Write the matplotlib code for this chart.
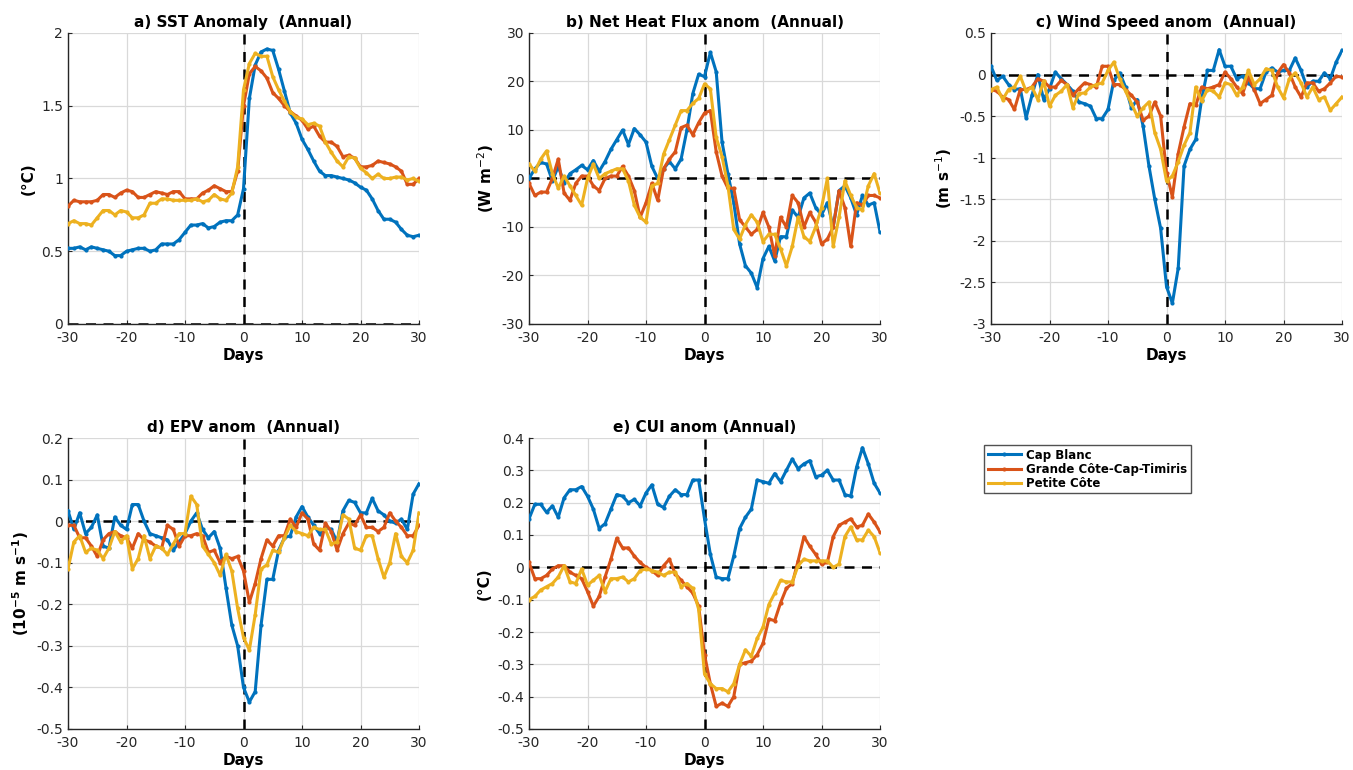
import matplotlib
matplotlib.use("Agg")
import matplotlib.pyplot as plt
import numpy as np
from matplotlib.ticker import FuncFormatter

plt.rcParams.update({
    "font.family": "DejaVu Sans",
    "axes.unicode_minus": False,
    "font.size": 10,
})

days = np.arange(-30, 31)

# a) SST anomaly (degC)
sst_cb = [0.52, 0.52, 0.53, 0.51, 0.53, 0.52, 0.51, 0.50, 0.47, 0.47, 0.50, 0.51, 0.52, 0.52, 0.50, 0.51,
          0.55, 0.55, 0.55, 0.58, 0.63, 0.68, 0.68, 0.69, 0.66, 0.67, 0.70, 0.71, 0.71, 0.75, 0.93,
          1.55, 1.78, 1.87, 1.89, 1.88, 1.75, 1.60, 1.45, 1.38, 1.27, 1.20, 1.12, 1.05, 1.02, 1.02, 1.01,
          1.00, 0.99, 0.97, 0.94, 0.92, 0.86, 0.78, 0.72, 0.72, 0.70, 0.65, 0.61, 0.60, 0.61, 0.59][:61]
sst_gc = [0.81, 0.85, 0.84, 0.84, 0.84, 0.85, 0.89, 0.89, 0.87, 0.90, 0.92, 0.91, 0.87, 0.87, 0.89, 0.91,
          0.90, 0.89, 0.91, 0.91, 0.86, 0.86, 0.86, 0.90, 0.92, 0.95, 0.93, 0.91, 0.91, 1.05,
          1.50, 1.72, 1.77, 1.74, 1.69, 1.59, 1.55, 1.50, 1.46, 1.43, 1.40, 1.34, 1.36, 1.29, 1.25, 1.25,
          1.22, 1.15, 1.16, 1.14, 1.08, 1.08, 1.09, 1.12, 1.11, 1.10, 1.08, 1.05, 0.96, 0.96, 1.00]
sst_pc = [0.69, 0.71, 0.69, 0.69, 0.68, 0.73, 0.78, 0.78, 0.75, 0.78, 0.77, 0.73, 0.73, 0.75, 0.83, 0.83,
          0.86, 0.86, 0.85, 0.85, 0.85, 0.85, 0.86, 0.84, 0.85, 0.89, 0.86, 0.85, 0.90, 1.08,
          1.61, 1.79, 1.86, 1.84, 1.84, 1.70, 1.61, 1.53, 1.46, 1.42, 1.41, 1.37, 1.38, 1.36, 1.25, 1.18,
          1.12, 1.08, 1.15, 1.14, 1.07, 1.04, 1.00, 1.03, 1.00, 1.00, 1.01, 1.01, 0.99, 1.00, 0.98]

# b) Net heat flux anomaly (W m-2)
nhf_cb = [0, 2, 3.3, 3, -0.5, 2.5, -1, 1, 1.8, 2.7, 1.8, 3.7, 1.5, 3.5, 6, 8, 10, 7, 10.3, 9, 7.5,
          2.5, 0, 2, 3.5, 2, 4, 10, 17.5, 21.5, 21, 26, 22, 7.5, 1, -5, -13.5, -18, -19.5, -22.5,
          -16.5, -14, -17, -12, -12, -6.5, -8, -4, -3, -6, -7.5, -5, -10, -2.5, -1.5, -4, -7.5,
          -3.5, -5.5, -5, -11]
nhf_gc = [-1, -3.5, -2.8, -2.8, 0, 4, -3, -4.5, -1, 0.5, 0.5, -1.5, -2.5, 0, 0.5, 0.5, 2.5, 0.5,
          -2.5, -8, -5, -1, -4.5, 2, 4, 5.5, 10.5, 11, 9, 11.5, 13.5, 14, 5.5, 0.5, -2, -2, -8.5,
          -10, -11.5, -10.5, -7, -10, -16, -8, -10, -3.5, -5, -10, -7, -9, -13.5, -12.5, -10,
          -2.5, -6, -14, -5, -5.5, -3.5, -3.5, -4]
nhf_pc = [3, 1.5, 4, 5.7, 1, -2, 0.5, -1.5, -3.5, -5.5, 0, 3, 0, 1, 1.5, 2, 2, -0.5, -5.5, -8, -9,
          -1.5, -1, 5, 8, 11, 14, 14, 15.5, 16.5, 19.5, 18.5, 8.5, 4.5, -1.5, -10.5, -12.5, -9.5,
          -7.5, -9, -13, -11.5, -11.5, -14.5, -18, -14, -8, -12, -13, -10, -6, 0, -14, -8, -0.5,
          -3.5, -6, -6.5, -1.5, 1, -3]

# c) Wind speed anomaly (m s-1)
ws_cb = [0.10, -0.07, -0.02, -0.12, -0.18, -0.17, -0.52, -0.25, 0.0, -0.30, -0.17, 0.03, -0.05,
         -0.12, -0.20, -0.33, -0.35, -0.38, -0.53, -0.53, -0.42, -0.07, 0.02, -0.15, -0.40, -0.30,
         -0.62, -1.10, -1.50, -1.85, -2.55, -2.75, -2.33, -1.10, -0.90, -0.78, -0.30, 0.05, 0.05,
         0.30, 0.10, 0.10, -0.05, -0.02, -0.10, -0.17, -0.17, 0.03, 0.08, 0.03, 0.05, 0.05, 0.20,
         0.05, -0.15, -0.08, -0.08, 0.02, -0.05, 0.15, 0.29]
ws_gc = [-0.18, -0.20, -0.27, -0.30, -0.42, -0.18, -0.18, -0.15, -0.05, -0.08, -0.15, -0.15, -0.07,
         -0.12, -0.25, -0.17, -0.10, -0.12, -0.15, 0.10, 0.10, -0.12, -0.12, -0.18, -0.25, -0.33,
         -0.55, -0.50, -0.33, -0.50, -1.18, -1.47, -0.95, -0.63, -0.35, -0.37, -0.15, -0.17, -0.15,
         -0.12, 0.03, -0.05, -0.15, -0.23, -0.03, -0.18, -0.35, -0.30, -0.25, 0.02, 0.12, 0.02,
         -0.15, -0.27, -0.10, -0.10, -0.20, -0.17, -0.10, -0.02, -0.03]
ws_pc = [-0.18, -0.15, -0.30, -0.18, -0.15, -0.02, -0.20, -0.15, -0.30, -0.08, -0.38, -0.25, -0.20,
         -0.12, -0.40, -0.23, -0.22, -0.15, -0.12, -0.10, 0.05, 0.15, -0.05, -0.20, -0.35, -0.50,
         -0.40, -0.33, -0.70, -0.90, -1.28, -1.22, -1.05, -0.85, -0.70, -0.15, -0.32, -0.18, -0.20,
         -0.27, -0.10, -0.12, -0.25, -0.15, 0.05, -0.12, -0.05, 0.07, 0.05, -0.15, -0.28, -0.05,
         0.02, -0.10, -0.27, -0.15, -0.30, -0.27, -0.43, -0.35, -0.27]

# d) EPV anomaly (1e-5 m s-1)
epv_cb = [0.025, -0.02, 0.02, -0.03, -0.015, 0.015, -0.06, -0.065, 0.01, -0.01, -0.02, 0.04, 0.04,
          0.0, -0.03, -0.035, -0.04, -0.045, -0.07, -0.05, -0.03, 0.0, 0.02, -0.02, -0.04, -0.025,
          -0.065, -0.16, -0.25, -0.30, -0.40, -0.435, -0.41, -0.25, -0.14, -0.14, -0.07, -0.04,
          -0.035, 0.01, 0.035, 0.01, -0.01, -0.03, -0.015, -0.02, -0.05, 0.025, 0.05, 0.045, 0.02,
          0.02, 0.055, 0.025, 0.015, 0.0, -0.005, 0.005, -0.02, 0.065, 0.09]
epv_gc = [-0.01, -0.01, -0.04, -0.04, -0.06, -0.085, -0.045, -0.03, -0.025, -0.035, -0.04, -0.065,
          -0.03, -0.045, -0.05, -0.06, -0.065, -0.01, -0.02, -0.06, -0.035, -0.035, -0.03, -0.035,
          -0.075, -0.07, -0.10, -0.085, -0.09, -0.085, -0.12, -0.195, -0.15, -0.09, -0.045, -0.06,
          -0.035, -0.035, 0.005, -0.015, 0.02, 0.005, -0.055, -0.07, -0.005, -0.025, -0.07, -0.03,
          -0.005, -0.01, 0.015, -0.015, -0.015, -0.025, -0.015, 0.02, 0.0, -0.015, -0.035, -0.035,
          -0.01]
epv_pc = [-0.115, -0.05, -0.035, -0.075, -0.065, -0.07, -0.09, -0.065, -0.025, -0.05, -0.035, -0.115,
          -0.09, -0.035, -0.09, -0.06, -0.065, -0.08, -0.055, -0.03, -0.03, 0.06, 0.04, -0.06, -0.08,
          -0.10, -0.13, -0.08, -0.12, -0.21, -0.28, -0.31, -0.225, -0.115, -0.105, -0.07, -0.075,
          -0.04, -0.01, -0.025, -0.03, -0.035, -0.015, -0.02, -0.02, -0.055, -0.05, 0.015, 0.005,
          -0.065, -0.07, -0.035, -0.035, -0.09, -0.135, -0.10, -0.03, -0.085, -0.10, -0.07, 0.02]

# e) CUI anomaly (degC)
cui_cb = [0.15, 0.195, 0.195, 0.17, 0.19, 0.155, 0.215, 0.24, 0.24, 0.25, 0.22, 0.18, 0.12, 0.135,
          0.18, 0.225, 0.22, 0.20, 0.21, 0.19, 0.23, 0.255, 0.195, 0.185, 0.22, 0.24, 0.225, 0.225,
          0.27, 0.27, 0.15, 0.04, -0.03, -0.035, -0.035, 0.035, 0.12, 0.155, 0.18, 0.27, 0.265,
          0.26, 0.29, 0.265, 0.30, 0.335, 0.305, 0.32, 0.33, 0.28, 0.285, 0.30, 0.27, 0.27, 0.225,
          0.22, 0.31, 0.37, 0.32, 0.26, 0.23]
cui_gc = [0.015, -0.035, -0.035, -0.025, -0.005, 0.005, 0.005, -0.015, -0.025, -0.035, -0.075,
          -0.12, -0.09, -0.03, 0.025, 0.09, 0.06, 0.06, 0.035, 0.015, 0.0, -0.01, -0.025, 0.005,
          0.025, -0.02, -0.04, -0.06, -0.08, -0.12, -0.27, -0.36, -0.43, -0.42, -0.43, -0.40, -0.30,
          -0.295, -0.29, -0.27, -0.235, -0.16, -0.165, -0.11, -0.065, -0.05, 0.02, 0.095, 0.065,
          0.04, 0.01, 0.015, 0.095, 0.13, 0.14, 0.15, 0.125, 0.13, 0.165, 0.14, 0.11]
cui_pc = [-0.10, -0.09, -0.07, -0.06, -0.05, -0.03, 0.005, -0.045, -0.05, -0.005, -0.055, -0.04,
          -0.025, -0.075, -0.035, -0.035, -0.03, -0.045, -0.035, -0.01, -0.005, -0.01, -0.015,
          -0.025, -0.015, -0.015, -0.06, -0.05, -0.065, -0.13, -0.33, -0.36, -0.375, -0.375, -0.385,
          -0.36, -0.30, -0.255, -0.275, -0.22, -0.185, -0.115, -0.08, -0.04, -0.045, -0.045, 0.005,
          0.025, 0.02, 0.02, 0.02, 0.02, 0.0, 0.01, 0.095, 0.125, 0.085, 0.085, 0.115, 0.095, 0.045]

site_names = ["Cap Blanc", "Grande Côte-Cap-Timiris", "Petite Côte"]
site_colors = ["#0072BD", "#D95319", "#EDB120"]

panels = [
    ("a) SST Anomaly  (Annual)", "(°C)", (0, 2), 0.5, [sst_cb, sst_gc, sst_pc]),
    ("b) Net Heat Flux anom  (Annual)", "(W m$^{-2}$)", (-30, 30), 10, [nhf_cb, nhf_gc, nhf_pc]),
    ("c) Wind Speed anom  (Annual)", "(m s$^{-1}$)", (-3, 0.5), 0.5, [ws_cb, ws_gc, ws_pc]),
    ("d) EPV anom  (Annual)", "(10$^{\\mathbf{-5}}$ m s$^{\\mathbf{-1}}$)", (-0.5, 0.2), 0.1,
     [epv_cb, epv_gc, epv_pc]),
    ("e) CUI anom (Annual)", "(°C)", (-0.5, 0.4), 0.1, [cui_cb, cui_gc, cui_pc]),
]


def tick_fmt(v, pos):
    v = round(v, 6)
    if abs(v) < 1e-9:
        v = 0.0
    return f"{v:g}"


W, H = 1353, 770
boxes = [(68, 33), (529, 33), (991, 33), (68, 438), (529, 438)]
aw, ah = 351, 291

fig = plt.figure(figsize=(W / 100, H / 100), dpi=100)
axis_col = "#262626"

handles = []
for (title, ylab, ylim, ystep, series), (x0, y0) in zip(panels, boxes):
    ax = fig.add_axes([x0 / W, 1 - (y0 + ah) / H, aw / W, ah / H])
    ax.grid(True, color="#d9d9d9", linewidth=0.9)
    ax.set_axisbelow(True)
    # zero reference lines
    ax.axhline(0, color="black", ls=(0, (4, 3)), lw=1.8, zorder=1.5)
    ax.axvline(0, color="black", ls=(0, (4, 3)), lw=1.8, zorder=1.5)
    handles = []
    for vals, name, col in zip(series, site_names, site_colors):
        h, = ax.plot(days, vals, color=col, lw=2.2, marker=".", ms=4, label=name, zorder=3)
        handles.append(h)
    ax.set_xlim(-30, 30)
    ax.set_ylim(*ylim)
    ax.set_xticks(np.arange(-30, 31, 10))
    ax.set_yticks(np.arange(ylim[0], ylim[1] + ystep / 2, ystep))
    ax.yaxis.set_major_formatter(FuncFormatter(tick_fmt))
    ax.set_title(title, fontsize=11, fontweight="bold", pad=4)
    ax.set_xlabel("Days", fontsize=11, fontweight="bold", labelpad=2)
    ax.set_ylabel(ylab, fontsize=11, fontweight="bold")
    ax.spines["top"].set_visible(False)
    ax.spines["right"].set_visible(False)
    for s in ("left", "bottom"):
        ax.spines[s].set_color(axis_col)
        ax.spines[s].set_linewidth(1.0)
    ax.tick_params(direction="in", length=3, colors=axis_col, labelsize=10, labelcolor=axis_col)
    ax.tick_params(axis="x", pad=5)

leg = fig.legend(handles, site_names, loc="upper left",
                 bbox_to_anchor=(984 / W, 1 - 445 / H), frameon=True, fancybox=False,
                 prop={"weight": "bold", "size": 8.5}, handlelength=2.8, borderpad=0.3,
                 labelspacing=0.1, handletextpad=0.5, borderaxespad=0)
leg.get_frame().set_edgecolor("#262626")
leg.get_frame().set_linewidth(1.0)

fig.savefig("out.png", dpi=100)
